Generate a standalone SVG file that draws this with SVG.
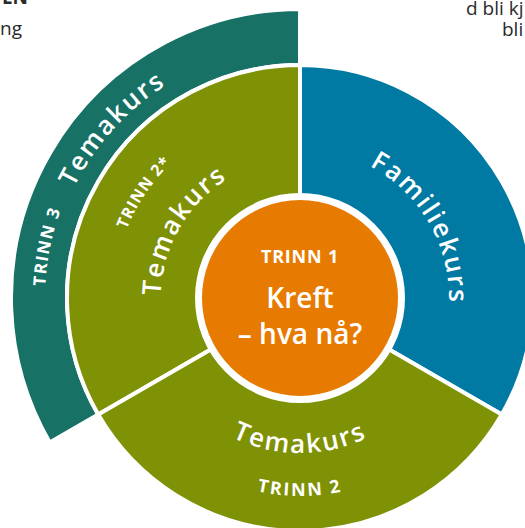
<svg xmlns="http://www.w3.org/2000/svg" width="525" height="528" viewBox="0 0 525 528">
  <style>
    .seg { stroke: #ffffff; stroke-width: 4; stroke-linejoin: miter; }
    .teal { fill: #177265; }
    .olive { fill: #7f9105; }
    .blue { fill: #0079a3; }
    .orange { fill: #e77a00; stroke: #ffffff; stroke-width: 7; }
    .lbl { font-family: "Open Sans", "Noto Sans", "Liberation Sans", sans-serif; fill: #ffffff; }
    .big { font-size: 26px; font-weight: 600; letter-spacing: 2px; }
    .step { font-size: 17px; font-weight: 700; letter-spacing: 1.5px; }
    .page { font-family: "Open Sans", "Noto Sans", "Liberation Sans", sans-serif; font-size: 19px; fill: #2a2a2a; }
  </style>
  <defs>
    <path id="pFam" d="M225,168.1 A150,150 0 0 1 375,427.9"/>
    <path id="pTema2" d="M230,419.24 A140,140 0 0 1 370,176.76"/>
    <path id="pTrinn2s" d="M194.87,453.85 A188,188 0 0 1 405.13,142.15"/>
    <path id="pTema3" d="M130.7,486 A253,253 0 0 1 469.3,110"/>
    <path id="pTrinn3" d="M249,547.9 A255,255 0 0 1 351,48.1"/>
    <path id="pTemaB" d="M145,298 A155,155 0 0 0 455,298"/>
    <path id="pTrinn2" d="M102,298 A198,198 0 0 0 498,298"/>
  </defs>

  <g id="page-text">
    <text class="page" x="28" y="3.5" text-anchor="end" font-weight="700" fill="#1a1a1a">EN</text>
    <text class="page" x="0" y="35">ng</text>
    <text class="page" x="466" y="15">d bli kj</text>
    <text class="page" x="502" y="36">bli</text>
  </g>

  <g id="trinn3">
    <path class="seg teal" d="M49.72,442.5 A289,289 0 0 1 300,9 L300,65 A233,233 0 0 0 98.22,414.5 Z"/>
    <text class="lbl step"><textPath href="#pTrinn3" startOffset="50%" text-anchor="middle">TRINN 3</textPath></text>
    <text class="lbl big"><textPath href="#pTema3" startOffset="50%" text-anchor="middle">Temakurs</textPath></text>
  </g>

  <g id="trinn2-star">
    <path class="seg olive" d="M300,298 L98.22,414.5 A233,233 0 0 1 300,65 Z"/>
    <text class="lbl step" style="font-size:16px;letter-spacing:1px"><textPath href="#pTrinn2s" startOffset="50%" text-anchor="middle">TRINN 2*</textPath></text>
    <text class="lbl big"><textPath href="#pTema2" startOffset="50%" text-anchor="middle">Temakurs</textPath></text>
  </g>

  <g id="familiekurs">
    <path class="seg blue" d="M300,298 L300,65 A233,233 0 0 1 501.78,414.5 Z"/>
    <text class="lbl big"><textPath href="#pFam" startOffset="50%" text-anchor="middle">Familiekurs</textPath></text>
  </g>

  <g id="trinn2">
    <path class="seg olive" d="M300,298 L501.78,414.5 A233,233 0 0 1 98.22,414.5 Z"/>
    <text class="lbl big"><textPath href="#pTemaB" startOffset="50%" text-anchor="middle">Temakurs</textPath></text>
    <text class="lbl step" style="font-size:18px;letter-spacing:2px"><textPath href="#pTrinn2" startOffset="50%" text-anchor="middle">TRINN 2</textPath></text>
  </g>

  <g id="trinn1">
    <circle class="orange" cx="300" cy="298" r="101.5"/>
    <text class="lbl" x="300" y="263" text-anchor="middle" font-size="18" font-weight="700" letter-spacing="0.8">TRINN 1</text>
    <text class="lbl" x="300" y="308" text-anchor="middle" font-size="28" font-weight="600">Kreft</text>
    <text class="lbl" x="300" y="344" text-anchor="middle" font-size="28" font-weight="600">– hva nå?</text>
  </g>
</svg>
